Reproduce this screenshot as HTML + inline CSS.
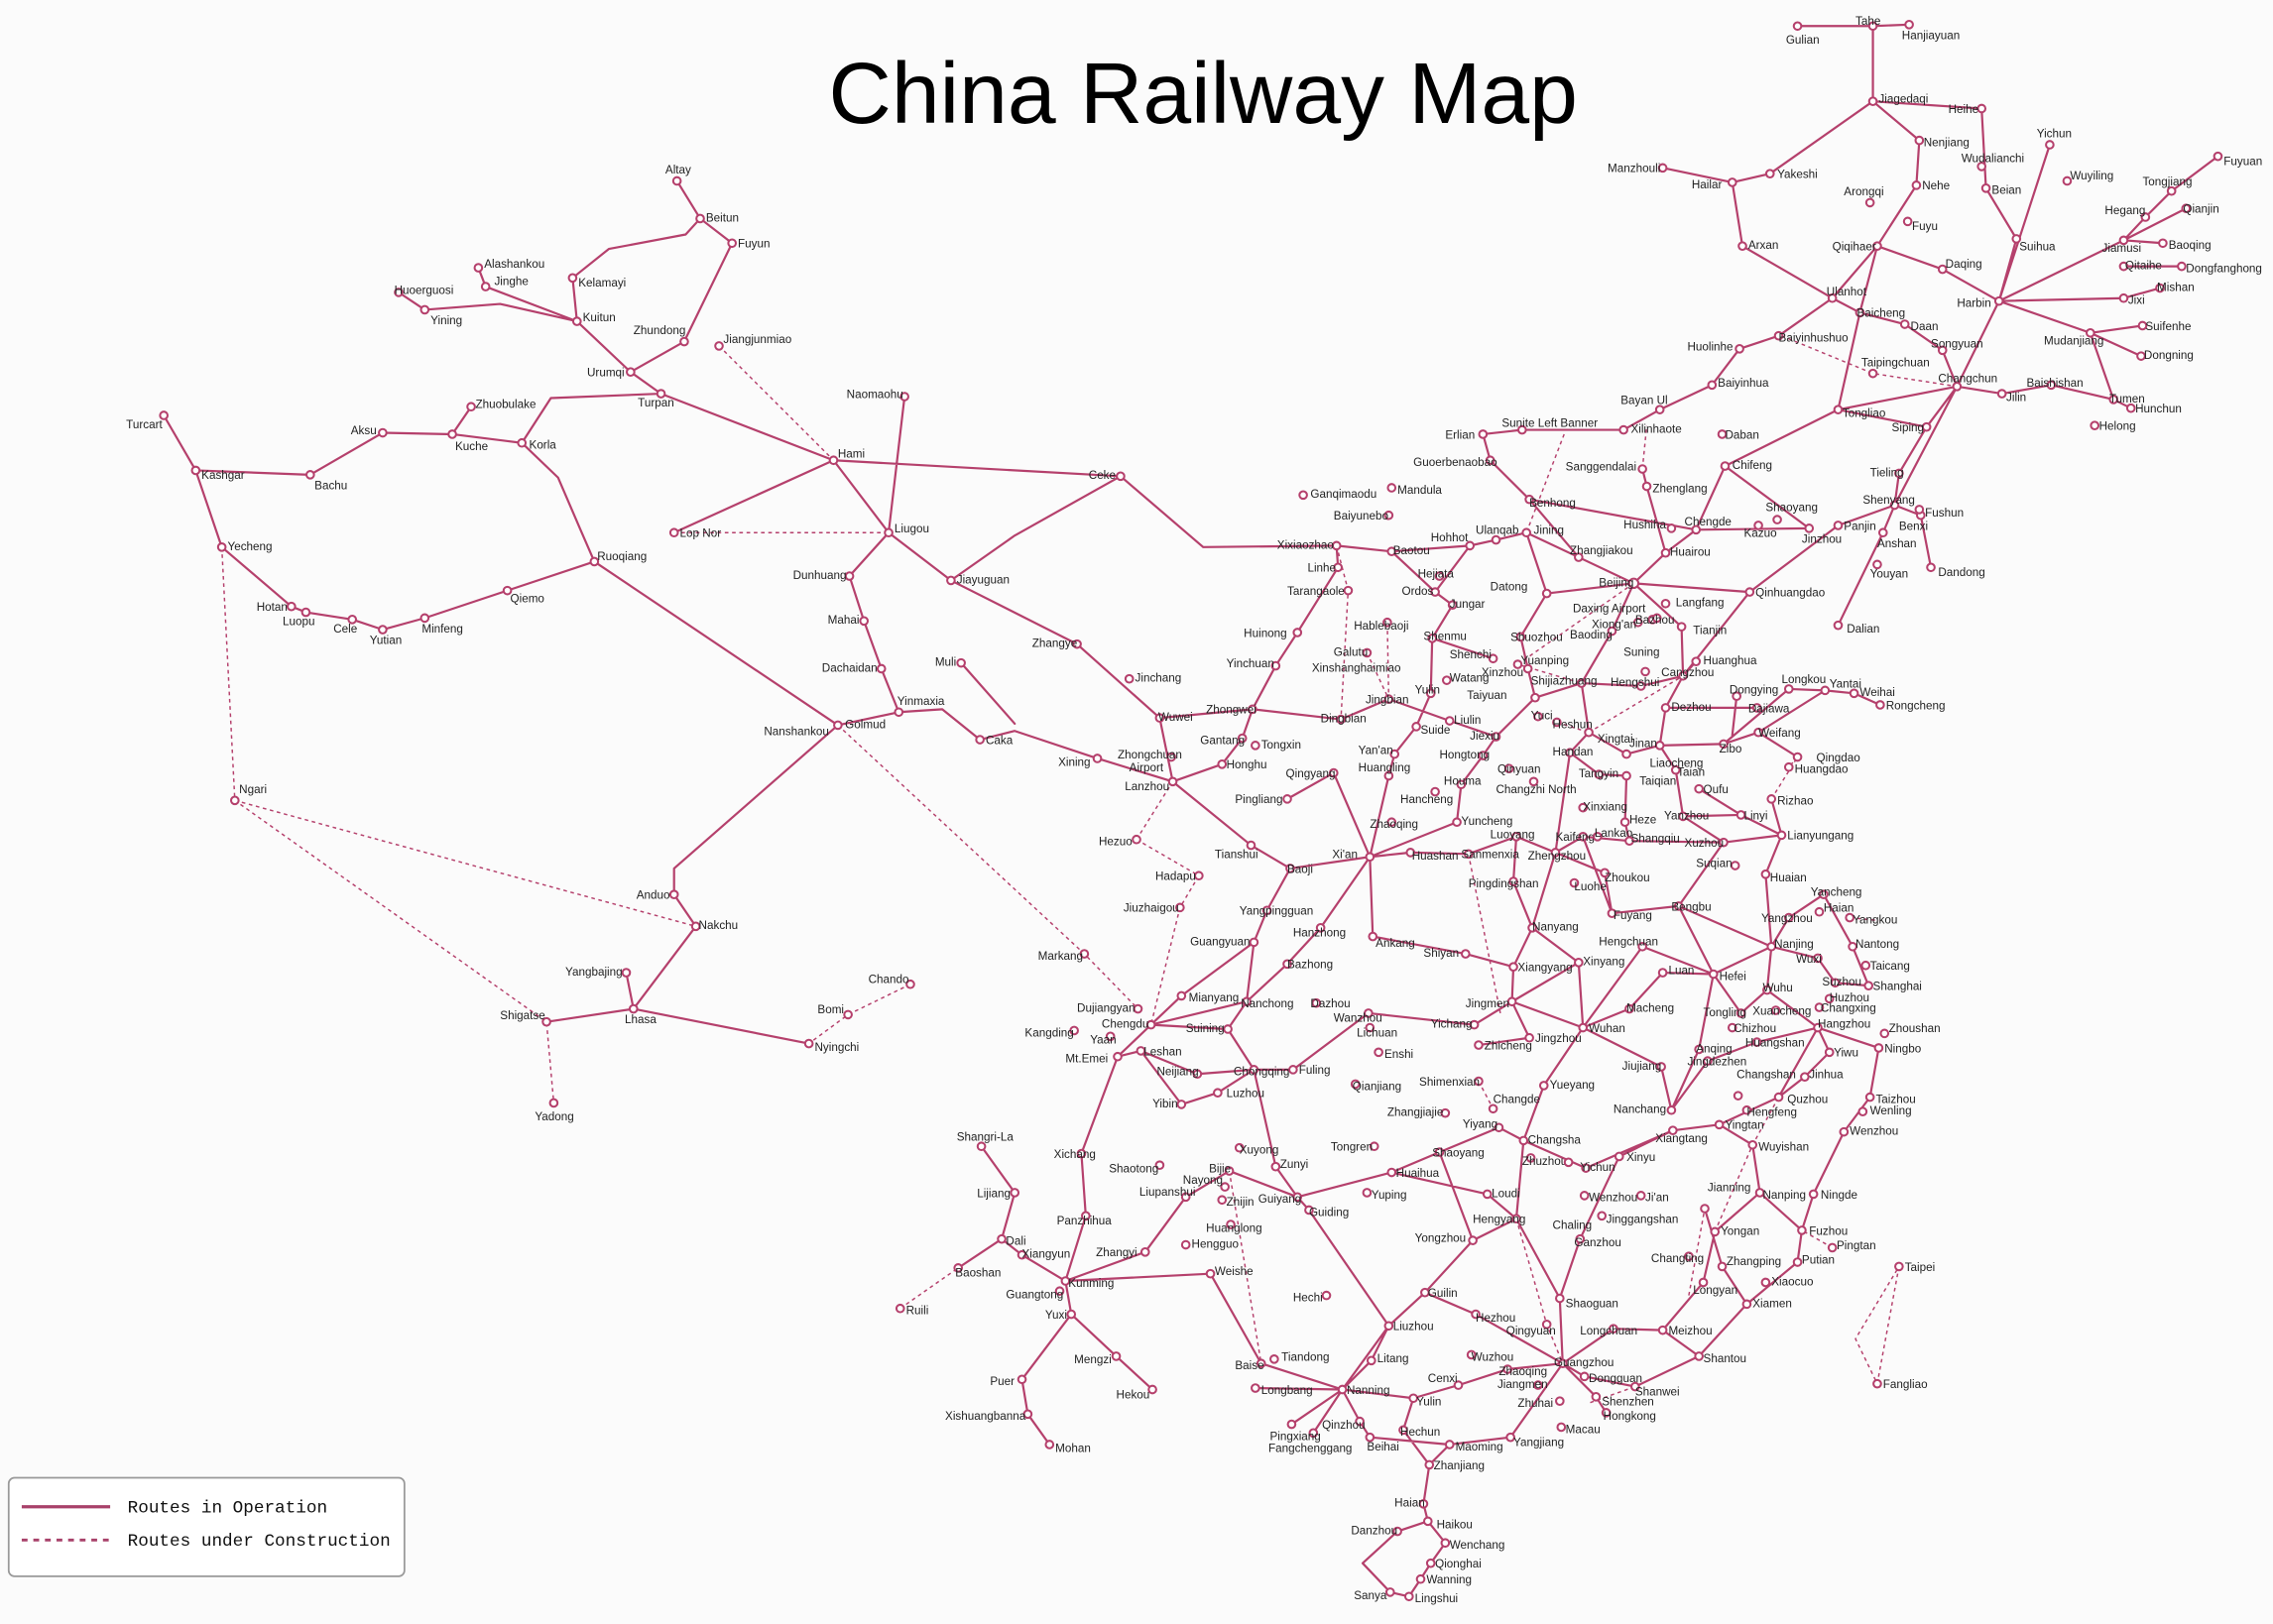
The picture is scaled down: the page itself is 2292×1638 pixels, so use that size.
<!DOCTYPE html>
<html><head><meta charset="utf-8">
<style>
html,body{margin:0;padding:0;background:#fbfbfb;}
svg{display:block;}
.s{fill:none;stroke:#b5406c;stroke-width:1.5;stroke-linejoin:round;stroke-linecap:round}
.d{fill:none;stroke:#b5406c;stroke-width:1;stroke-dasharray:2.5 2.5}
.n circle{fill:#fff;stroke:#b5406c;stroke-width:1.4}
.n text{font-family:"Liberation Sans",sans-serif;font-size:8px;fill:#222}
</style></head>
<body>
<svg width="2292" height="1638" viewBox="0 0 1568 1122" preserveAspectRatio="none" xmlns="http://www.w3.org/2000/svg">
<rect width="1568" height="1122" fill="#fbfbfb"/>
<text x="830" y="85" text-anchor="middle" font-family="Liberation Sans, sans-serif" font-size="60" fill="#000">China Railway Map</text>

<path class="s" d="
M467,125L483,151L505,168L472,236L435,257L456,272L575,318L613,368L656,401L743,445L800,496L809,540
M483,151L473,162L420,172L395,192L398,222L435,257
M330,185L335,198L398,222
M275,202L293,214L345,210L398,222
M456,272L380,275L360,306L312,300L264,299L214,328L135,325L153,378L201,419L211,423L243,428L264,435L293,427L350,408L410,388L578,501
M360,306L385,330L400,365L410,388
M325,281L312,300
M135,325L113,287
M575,318L773,329L830,378L922,377L960,381L1014,377L1032,373L1053,368L1089,385L1127,403
M624,274L613,368
M465,368L575,318
M613,368L586,398L596,429L608,462L620,492L578,501
M773,329L700,370L656,401
M578,501L465,600L465,618L480,640L437,697L377,706
M432,672L437,697L558,721
M620,492L650,490L676,511L700,505L757,524L809,540
M663,458L700,500
M809,540L863,584L890,600L945,592L973,589L1013,590L1046,578L1073,589L1092,578L1124,581L1189,582L1229,577
M800,496L864,490L880,460L895,437L923,392L922,377
M864,490L857,510L843,528L809,540
M864,490L925,497L958,483L1000,498L1032,509L1059,482L1054,462L1049,440L1067,410
M960,381L990,409L1002,418L988,441L987,479L977,502L962,521L958,536L945,592
M1067,410L1053,368M1067,410L1127,403
M1059,482L1091,472L1132,474L1161,467L1207,409L1268,363L1307,349L1350,267L1379,208L1442,230L1478,225
M1127,403L1112,436L1091,472L1096,506L1083,520L1073,589L1057,641L1089,665L1092,710L1065,750L1051,788L1046,842L1076,897L1078,942L1101,965L1108,976
M1127,403L1160,433L1161,467L1149,489L1145,515L1156,532L1161,564L1189,582L1158,626L1222,654L1254,662L1266,679L1289,681
M1127,403L1149,382L1170,366L1190,322L1268,283L1350,267
M1127,403L1207,409
M1145,515L1189,514L1213,506L1240,523
M1189,514L1234,476L1259,477L1279,479L1297,487
M1213,506L1259,477
M1161,467L1170,457
M1149,489L1212,489M1198,481L1195,508
M945,592L1005,568L1008,542L1023,522L1032,509
M945,592L911,641L888,666L860,692L847,711L865,739L892,739L944,700L1017,708L1043,692L1092,710
M945,592L947,647L1011,659L1044,668L1057,641
M890,600L874,629L865,651L860,692L794,708L771,730L787,726L826,742L865,739L880,806L895,827L960,810L1026,825L1046,842
M794,708L815,688L865,651
M794,708L847,711
M865,739L840,755L815,763L787,726
M895,827L903,836L958,916L926,960L870,942
M895,827L848,809L818,827L790,865L735,885L739,908L770,937L795,960
M735,885L705,867L691,856L700,824L677,792
M691,856L661,876
M739,908L705,953L709,977L724,998
M735,885L835,880L870,942
M749,840L746,797L771,730
M749,840L735,885
M960,810L993,796L1034,779L1051,788L1094,807L1154,781L1186,777L1227,758L1254,710L1296,724
M958,916L983,893L1016,857L1046,842
M958,916L946,940L926,960L938,982L945,993L1000,998L1042,993L1078,942
M926,960L891,984M926,960L906,990M926,960L866,959
M1006,957L1040,946L1078,942L1093,951L1128,958L1172,937L1205,901L1240,872L1243,850L1251,825L1272,782L1290,758L1296,724
M1078,942L1113,918L1147,919L1172,937
M1090,856L1076,897M1090,856L1117,799L1154,781
M1147,919L1175,886L1183,851L1214,824L1209,791L1186,777
M1243,850L1214,824
M1176,835L1188,875L1205,901
M1153,767L1146,737L1092,710
M1153,767L1178,733L1212,720L1254,710
M1182,673L1222,654M1182,673L1147,672L1124,697L1092,710
M1182,673L1172,725L1153,767
M1182,673L1201,700L1219,684L1222,654
M1158,626L1182,673
M1222,654L1234,634L1258,618L1278,654L1289,681
M1229,577L1218,604L1222,654
M1201,563L1229,577L1222,552
M1161,564L1201,563
M1092,578L1112,631L1158,626
M1043,692L1055,717L1020,722
M986,1012L1000,998M986,1012L982,1039L985,1051L997,1066L987,1080L980,1091L972,1103L959,1100L940,1080L964,1058L985,1051
M1023,300L1050,297L1120,297L1145,283L1181,266L1200,241L1227,232L1264,206L1295,170L1322,128L1324,97L1292,70L1292,18L1240,18
M1292,18L1317,17
M1292,70L1367,75
M1147,116L1195,126L1221,120L1292,70
M1195,126L1202,170L1264,206
M1264,206L1283,216L1314,224L1340,242L1350,267L1381,272L1415,266L1458,276L1470,282
M1295,170L1340,186L1379,208L1391,165L1370,130L1367,75
M1379,208L1465,166L1480,150L1498,132L1530,108
M1465,166L1508,144M1465,166L1492,168
M1379,208L1465,206L1490,199M1465,184L1505,184
M1442,230L1477,246M1442,230L1458,276
M1379,208L1414,100
M1295,170L1283,216L1268,283L1329,295L1350,267
M1307,349L1299,368L1268,432M1307,349L1325,356L1332,392
M1307,349L1310,327L1329,295
M1248,365L1190,322
M1028,318L1023,300M1028,318L1055,345L1089,385
M1136,336L1133,324M1136,336L1149,382
M1055,345L1170,366L1248,365
M1014,377L990,409
M988,441L1030,455
M945,592L920,534L888,552
M1073,589L1107,603L1112,631
M1043,692L1089,665
M1222,654L1219,684L1254,710
M1254,710L1262,727L1245,744L1227,758
M1092,710L1133,654L1182,673
M993,796L1016,857
M983,893L1018,908L1078,942
M926,960L975,966L1006,957
M975,966L968,988L986,1012
M1044,668L1043,692
M1057,641L1044,609L1046,578
M1124,581L1121,568L1122,536L1103,535L1083,520
M1145,515L1122,521L1096,506
M1172,545L1201,563
"/>
<path class="d" d="
M496,239L575,318
M465,368L613,368
M153,378L162,553L377,706L382,762
M162,553L480,640
M578,501L748,659L785,697
M628,680L585,701L558,721
M784,580L809,540M784,580L827,605L814,627L794,708
M1127,403L1047,459L1091,472
M1074,499L1096,506
M1096,506L1161,467
M1079,300L1053,368
M1133,324L1136,294
M1229,232L1292,258L1350,267
M943,451L958,483L957,430
M922,377L930,408L925,497
M1013,590L1035,700
M1020,747L1030,766
M848,809L870,942
M1046,842L1067,915L1078,942
M1183,851L1209,791L1227,758
M1310,875L1295,956L1280,925L1310,875
M1165,895L1176,835
M1240,523L1234,530
M1276,634L1296,636
M621,904L661,876
M1264,862L1243,850
M1222,552L1240,523
M1097,969L1128,958
"/>

<g class="n">
<circle cx="467" cy="125" r="2.6"/><text x="459" y="120">Altay</text>
<circle cx="483" cy="151" r="2.6"/><text x="487" y="153">Beitun</text>
<circle cx="505" cy="168" r="2.6"/><text x="509" y="171">Fuyun</text>
<circle cx="330" cy="185" r="2.6"/><text x="334" y="185">Alashankou</text>
<circle cx="335" cy="198" r="2.6"/><text x="341" y="197">Jinghe</text>
<circle cx="395" cy="192" r="2.6"/><text x="399" y="198">Kelamayi</text>
<circle cx="275" cy="202" r="2.6"/><text x="272" y="203">Huoerguosi</text>
<circle cx="293" cy="214" r="2.6"/><text x="297" y="224">Yining</text>
<circle cx="398" cy="222" r="2.6"/><text x="402" y="222">Kuitun</text>
<circle cx="472" cy="236" r="2.6"/><text x="437" y="231">Zhundong</text>
<circle cx="496" cy="239" r="2.6"/><text x="499" y="237">Jiangjunmiao</text>
<circle cx="435" cy="257" r="2.6"/><text x="405" y="260">Urumqi</text>
<circle cx="456" cy="272" r="2.6"/><text x="440" y="281">Turpan</text>
<circle cx="325" cy="281" r="2.6"/><text x="328" y="282">Zhuobulake</text>
<circle cx="264" cy="299" r="2.6"/><text x="242" y="300">Aksu</text>
<circle cx="312" cy="300" r="2.6"/><text x="314" y="311">Kuche</text>
<circle cx="360" cy="306" r="2.6"/><text x="365" y="310">Korla</text>
<circle cx="113" cy="287" r="2.6"/><text x="87" y="296">Turcart</text>
<circle cx="135" cy="325" r="2.6"/><text x="139" y="331">Kashgar</text>
<circle cx="214" cy="328" r="2.6"/><text x="217" y="338">Bachu</text>
<circle cx="153" cy="378" r="2.6"/><text x="157" y="380">Yecheng</text>
<circle cx="201" cy="419" r="2.6"/><text x="177" y="422">Hotan</text>
<circle cx="211" cy="423" r="2.6"/><text x="195" y="432">Luopu</text>
<circle cx="243" cy="428" r="2.6"/><text x="230" y="437">Cele</text>
<circle cx="264" cy="435" r="2.6"/><text x="255" y="445">Yutian</text>
<circle cx="293" cy="427" r="2.6"/><text x="291" y="437">Minfeng</text>
<circle cx="350" cy="408" r="2.6"/><text x="352" y="416">Qiemo</text>
<circle cx="410" cy="388" r="2.6"/><text x="412" y="387">Ruoqiang</text>
<circle cx="575" cy="318" r="2.6"/><text x="578" y="316">Hami</text>
<circle cx="624" cy="274" r="2.6"/><text x="584" y="275">Naomaohu</text>
<circle cx="465" cy="368" r="2.6"/><text x="469" y="371">Lop Nor</text>
<circle cx="613" cy="368" r="2.6"/><text x="617" y="368">Liugou</text>
<circle cx="773" cy="329" r="2.6"/><text x="751" y="331">Ceke</text>
<circle cx="656" cy="401" r="2.6"/><text x="660" y="403">Jiayuguan</text>
<circle cx="586" cy="398" r="2.6"/><text x="547" y="400">Dunhuang</text>
<circle cx="596" cy="429" r="2.6"/><text x="571" y="431">Mahai</text>
<circle cx="608" cy="462" r="2.6"/><text x="567" y="464">Dachaidan</text>
<circle cx="620" cy="492" r="2.6"/><text x="619" y="487">Yinmaxia</text>
<circle cx="578" cy="501" r="2.6"/><text x="583" y="503">Golmud</text>
<text x="527" y="508">Nanshankou</text>
<circle cx="663" cy="458" r="2.6"/><text x="645" y="460">Muli</text>
<circle cx="676" cy="511" r="2.6"/><text x="680" y="514">Caka</text>
<circle cx="757" cy="524" r="2.6"/><text x="730" y="529">Xining</text>
<circle cx="162" cy="553" r="2.6"/><text x="165" y="548">Ngari</text>
<circle cx="465" cy="618" r="2.6"/><text x="439" y="621">Anduo</text>
<circle cx="480" cy="640" r="2.6"/><text x="482" y="642">Nakchu</text>
<circle cx="432" cy="672" r="2.6"/><text x="390" y="674">Yangbajing</text>
<circle cx="437" cy="697" r="2.6"/><text x="431" y="707">Lhasa</text>
<circle cx="377" cy="706" r="2.6"/><text x="345" y="704">Shigatse</text>
<circle cx="382" cy="762" r="2.6"/><text x="369" y="774">Yadong</text>
<circle cx="558" cy="721" r="2.6"/><text x="562" y="726">Nyingchi</text>
<circle cx="585" cy="701" r="2.6"/><text x="564" y="700">Bomi</text>
<circle cx="628" cy="680" r="2.6"/><text x="599" y="679">Chando</text>
<circle cx="748" cy="659" r="2.6"/><text x="716" y="663">Markang</text>
<circle cx="741" cy="712" r="2.6"/><text x="707" y="716">Kangding</text>
<circle cx="785" cy="697" r="2.6"/><text x="743" y="699">Dujiangyan</text>
<circle cx="794" cy="708" r="2.6"/><text x="760" y="710">Chengdu</text>
<circle cx="766" cy="716" r="2.6"/><text x="752" y="721">Yaan</text>
<circle cx="771" cy="730" r="2.6"/><text x="735" y="734">Mt.Emei</text>
<circle cx="743" cy="445" r="2.6"/><text x="712" y="447">Zhangye</text>
<circle cx="779" cy="469" r="2.6"/><text x="783" y="471">Jinchang</text>
<circle cx="800" cy="496" r="2.6"/><text x="799" y="498">Wuwei</text>
<circle cx="808" cy="523" r="2.6"/><text x="771" y="524">Zhongchuan</text><text x="779" y="533">Airport</text>
<circle cx="809" cy="540" r="2.6"/><text x="776" y="546">Lanzhou</text>
<circle cx="864" cy="490" r="2.6"/><text x="832" y="493">Zhongwei</text>
<circle cx="857" cy="510" r="2.6"/><text x="828" y="514">Gantang</text>
<circle cx="866" cy="515" r="2.6"/><text x="870" y="517">Tongxin</text>
<circle cx="843" cy="528" r="2.6"/><text x="846" y="531">Honghu</text>
<circle cx="880" cy="460" r="2.6"/><text x="846" y="461">Yinchuan</text>
<circle cx="895" cy="437" r="2.6"/><text x="858" y="440">Huinong</text>
<circle cx="923" cy="392" r="2.6"/><text x="902" y="395">Linhe</text>
<circle cx="922" cy="377" r="2.6"/><text x="881" y="379">Xixiaozhao</text>
<circle cx="899" cy="342" r="2.6"/><text x="904" y="344">Ganqimaodu</text>
<circle cx="958" cy="356" r="2.6"/><text x="920" y="359">Baiyunebo</text>
<circle cx="960" cy="337" r="2.6"/><text x="964" y="341">Mandula</text>
<circle cx="960" cy="381" r="2.6"/><text x="961" y="383">Baotou</text>
<circle cx="1014" cy="377" r="2.6"/><text x="987" y="374">Hohhot</text>
<circle cx="1032" cy="373" r="2.6"/><text x="1018" y="369">Ulanqab</text>
<circle cx="1053" cy="368" r="2.6"/><text x="1058" y="369">Jining</text>
<circle cx="993" cy="398" r="2.6"/><text x="978" y="399">Hejiata</text>
<circle cx="990" cy="409" r="2.6"/><text x="967" y="411">Ordos</text>
<circle cx="930" cy="408" r="2.6"/><text x="888" y="411">Tarangaole</text>
<circle cx="1002" cy="418" r="2.6"/><text x="1000" y="420">Jungar</text>
<circle cx="1067" cy="410" r="2.6"/><text x="1028" y="408">Datong</text>
<circle cx="957" cy="430" r="2.6"/><text x="934" y="435">Hablebaoji</text>
<circle cx="988" cy="441" r="2.6"/><text x="982" y="442">Shenmu</text>
<circle cx="943" cy="451" r="2.6"/><text x="920" y="453">Galutu</text>
<text x="905" y="464">Xinshanghaimiao</text>
<circle cx="958" cy="483" r="2.6"/><text x="942" y="486">Jingbian</text>
<circle cx="987" cy="479" r="2.6"/><text x="976" y="479">Yulin</text>
<circle cx="1049" cy="440" r="2.6"/><text x="1042" y="443">Shuozhou</text>
<circle cx="1030" cy="455" r="2.6"/><text x="1000" y="455">Shenchi</text>
<circle cx="1047" cy="459" r="2.6"/><text x="1049" y="459">Yuanping</text>
<circle cx="998" cy="470" r="2.6"/><text x="1000" y="471">Watang</text>
<circle cx="1054" cy="462" r="2.6"/><text x="1022" y="467">Xinzhou</text>
<circle cx="1059" cy="482" r="2.6"/><text x="1012" y="483">Taiyuan</text>
<circle cx="977" cy="502" r="2.6"/><text x="980" y="507">Suide</text>
<circle cx="1000" cy="498" r="2.6"/><text x="1003" y="500">Liulin</text>
<circle cx="925" cy="497" r="2.6"/><text x="911" y="499">Dingbian</text>
<circle cx="1032" cy="509" r="2.6"/><text x="1014" y="511">Jiexiu</text>
<circle cx="1061" cy="495" r="2.6"/><text x="1056" y="497">Yuci</text>
<circle cx="1074" cy="499" r="2.6"/><text x="1071" y="503">Heshun</text>
<circle cx="962" cy="521" r="2.6"/><text x="937" y="521">Yan'an</text>
<circle cx="958" cy="536" r="2.6"/><text x="937" y="533">Huangling</text>
<circle cx="920" cy="534" r="2.6"/><text x="887" y="537">Qingyang</text>
<circle cx="888" cy="552" r="2.6"/><text x="852" y="555">Pingliang</text>
<circle cx="863" cy="584" r="2.6"/><text x="838" y="593">Tianshui</text>
<circle cx="890" cy="600" r="2.6"/><text x="888" y="603">Baoji</text>
<circle cx="945" cy="592" r="2.6"/><text x="919" y="593">Xi'an</text>
<circle cx="990" cy="547" r="2.6"/><text x="966" y="555">Hancheng</text>
<circle cx="1008" cy="542" r="2.6"/><text x="996" y="542">Houma</text>
<circle cx="1023" cy="522" r="2.6"/><text x="993" y="524">Hongtong</text>
<circle cx="1041" cy="531" r="2.6"/><text x="1033" y="534">Qinyuan</text>
<circle cx="960" cy="568" r="2.6"/><text x="945" y="572">Zhaoqing</text>
<circle cx="1005" cy="568" r="2.6"/><text x="1008" y="570">Yuncheng</text>
<circle cx="973" cy="589" r="2.6"/><text x="974" y="594">Huashan</text>
<circle cx="1013" cy="590" r="2.6"/><text x="1008" y="593">Sanmenxia</text>
<circle cx="1046" cy="578" r="2.6"/><text x="1028" y="579">Luoyang</text>
<circle cx="1073" cy="589" r="2.6"/><text x="1054" y="594">Zhengzhou</text>
<circle cx="1092" cy="578" r="2.6"/><text x="1073" y="581">Kaifeng</text>
<circle cx="1058" cy="540" r="2.6"/><text x="1032" y="548">Changzhi North</text>
<circle cx="1083" cy="520" r="2.6"/><text x="1071" y="522">Handan</text>
<circle cx="1096" cy="506" r="2.6"/><text x="1102" y="513">Xingtai</text>
<circle cx="1091" cy="472" r="2.6"/><text x="1056" y="473">Shijiazhuang</text>
<circle cx="1132" cy="474" r="2.6"/><text x="1111" y="474">Hengshui</text>
<circle cx="1112" cy="436" r="2.6"/><text x="1083" y="441">Baoding</text>
<circle cx="1127" cy="403" r="3.2"/><text x="1103" y="405">Beijing</text>
<circle cx="1130" cy="430" r="2.6"/><text x="1085" y="423">Daxing Airport</text>
<circle cx="1140" cy="428" r="2.6"/><text x="1098" y="434">Xiong'an</text>
<circle cx="1143" cy="427" r="2.6"/><text x="1128" y="431">Bazhou</text>
<circle cx="1160" cy="433" r="2.6"/><text x="1168" y="438">Tianjin</text>
<circle cx="1149" cy="417" r="2.6"/><text x="1156" y="419">Langfang</text>
<circle cx="1161" cy="467" r="2.6"/><text x="1146" y="467">Cangzhou</text>
<circle cx="1135" cy="464" r="2.6"/><text x="1120" y="453">Suning</text>
<circle cx="1170" cy="457" r="2.6"/><text x="1175" y="459">Huanghua</text>
<circle cx="1149" cy="489" r="2.6"/><text x="1153" y="491">Dezhou</text>
<circle cx="1145" cy="515" r="2.6"/><text x="1124" y="516">Jinan</text>
<circle cx="1156" cy="532" r="2.6"/><text x="1157" y="536">Taian</text>
<circle cx="1122" cy="521" r="2.6"/><text x="1138" y="530">Liaocheng</text>
<circle cx="1103" cy="535" r="2.6"/><text x="1089" y="537">Tangyin</text>
<circle cx="1122" cy="536" r="2.6"/><text x="1131" y="542">Taiqian</text>
<circle cx="1092" cy="558" r="2.6"/><text x="1092" y="560">Xinxiang</text>
<circle cx="1121" cy="568" r="2.6"/><text x="1124" y="569">Heze</text>
<circle cx="1102" cy="578" r="2.6"/><text x="1100" y="578">Lankao</text>
<circle cx="1124" cy="581" r="2.6"/><text x="1125" y="582">Shangqiu</text>
<circle cx="1172" cy="545" r="2.6"/><text x="1175" y="548">Qufu</text>
<circle cx="1161" cy="564" r="2.6"/><text x="1148" y="566">Yanzhou</text>
<circle cx="1201" cy="563" r="2.6"/><text x="1203" y="566">Linyi</text>
<circle cx="1222" cy="552" r="2.6"/><text x="1226" y="556">Rizhao</text>
<circle cx="1189" cy="514" r="2.6"/><text x="1186" y="520">Zibo</text>
<circle cx="1213" cy="506" r="2.6"/><text x="1213" y="509">Weifang</text>
<circle cx="1240" cy="523" r="2.6"/><text x="1253" y="526">Qingdao</text>
<circle cx="1234" cy="530" r="2.6"/><text x="1238" y="534">Huangdao</text>
<circle cx="1259" cy="477" r="2.6"/><text x="1262" y="475">Yantai</text>
<circle cx="1279" cy="479" r="2.6"/><text x="1283" y="481">Weihai</text>
<circle cx="1234" cy="476" r="2.6"/><text x="1229" y="472">Longkou</text>
<circle cx="1297" cy="487" r="2.6"/><text x="1301" y="490">Rongcheng</text>
<circle cx="1198" cy="481" r="2.6"/><text x="1193" y="479">Dongying</text>
<circle cx="1212" cy="489" r="2.6"/><text x="1206" y="492">Dajiawa</text>
<circle cx="1170" cy="366" r="2.6"/><text x="1162" y="363">Chengde</text>
<circle cx="1153" cy="365" r="2.6"/><text x="1120" y="365">Hushiha</text>
<circle cx="1089" cy="385" r="2.6"/><text x="1083" y="383">Zhangjiakou</text>
<circle cx="1149" cy="382" r="2.6"/><text x="1152" y="384">Huairou</text>
<circle cx="1207" cy="409" r="2.6"/><text x="1211" y="412">Qinhuangdao</text>
<circle cx="1213" cy="363" r="2.6"/><text x="1203" y="371">Kazuo</text>
<circle cx="1226" cy="359" r="2.6"/><text x="1218" y="353">Shaoyang</text>
<circle cx="1248" cy="365" r="2.6"/><text x="1243" y="375">Jinzhou</text>
<circle cx="1268" cy="363" r="2.6"/><text x="1272" y="366">Panjin</text>
<circle cx="1307" cy="349" r="2.6"/><text x="1285" y="348">Shenyang</text>
<circle cx="1268" cy="432" r="2.6"/><text x="1274" y="437">Dalian</text>
<circle cx="1299" cy="368" r="2.6"/><text x="1295" y="378">Anshan</text>
<circle cx="1325" cy="356" r="2.6"/><text x="1310" y="366">Benxi</text>
<circle cx="1324" cy="352" r="2.6"/><text x="1328" y="357">Fushun</text>
<circle cx="1332" cy="392" r="2.6"/><text x="1337" y="398">Dandong</text>
<circle cx="1295" cy="390" r="2.6"/><text x="1290" y="399">Youyan</text>
<circle cx="1310" cy="327" r="2.6"/><text x="1290" y="329">Tieling</text>
<circle cx="1350" cy="267" r="2.6"/><text x="1337" y="264">Changchun</text>
<circle cx="1381" cy="272" r="2.6"/><text x="1384" y="277">Jilin</text>
<circle cx="1329" cy="295" r="2.6"/><text x="1305" y="298">Siping</text>
<circle cx="1379" cy="208" r="2.6"/><text x="1350" y="212">Harbin</text>
<circle cx="1295" cy="170" r="2.6"/><text x="1264" y="173">Qiqihaer</text>
<circle cx="1340" cy="186" r="2.6"/><text x="1342" y="185">Daqing</text>
<circle cx="1314" cy="224" r="2.6"/><text x="1318" y="228">Daan</text>
<circle cx="1283" cy="216" r="2.6"/><text x="1281" y="219">Baicheng</text>
<circle cx="1264" cy="206" r="2.6"/><text x="1260" y="204">Ulanhot</text>
<circle cx="1268" cy="283" r="2.6"/><text x="1271" y="288">Tongliao</text>
<circle cx="1190" cy="322" r="2.6"/><text x="1195" y="324">Chifeng</text>
<circle cx="1136" cy="336" r="2.6"/><text x="1140" y="340">Zhenglang</text>
<circle cx="1120" cy="297" r="2.6"/><text x="1125" y="299">Xilinhaote</text>
<circle cx="1145" cy="283" r="2.6"/><text x="1118" y="279">Bayan Ul</text>
<circle cx="1023" cy="300" r="2.6"/><text x="997" y="303">Erlian</text>
<circle cx="1050" cy="297" r="2.6"/><text x="1036" y="295">Sunite Left Banner</text>
<circle cx="1028" cy="318" r="2.6"/><text x="975" y="322">Guoerbenaobao</text>
<circle cx="1055" cy="345" r="2.6"/><text x="1055" y="350">Benhong</text>
<circle cx="1133" cy="324" r="2.6"/><text x="1080" y="325">Sanggendalai</text>
<circle cx="1200" cy="241" r="2.6"/><text x="1164" y="242">Huolinhe</text>
<circle cx="1181" cy="266" r="2.6"/><text x="1185" y="267">Baiyinhua</text>
<circle cx="1188" cy="300" r="2.6"/><text x="1190" y="303">Daban</text>
<circle cx="1227" cy="232" r="2.6"/><text x="1227" y="236">Baiyinhushuo</text>
<circle cx="1195" cy="126" r="2.6"/><text x="1167" y="130">Hailar</text>
<circle cx="1147" cy="116" r="2.6"/><text x="1109" y="119">Manzhouli</text>
<circle cx="1221" cy="120" r="2.6"/><text x="1226" y="123">Yakeshi</text>
<circle cx="1202" cy="170" r="2.6"/><text x="1206" y="172">Arxan</text>
<circle cx="1292" cy="70" r="2.6"/><text x="1296" y="71">Jiagedaqi</text>
<circle cx="1240" cy="18" r="2.6"/><text x="1232" y="30">Gulian</text>
<circle cx="1292" cy="18" r="2.6"/><text x="1280" y="17">Tahe</text>
<circle cx="1317" cy="17" r="2.6"/><text x="1312" y="27">Hanjiayuan</text>
<circle cx="1367" cy="75" r="2.6"/><text x="1344" y="78">Heihe</text>
<circle cx="1324" cy="97" r="2.6"/><text x="1327" y="101">Nenjiang</text>
<circle cx="1322" cy="128" r="2.6"/><text x="1326" y="131">Nehe</text>
<circle cx="1290" cy="140" r="2.6"/><text x="1272" y="135">Arongqi</text>
<circle cx="1316" cy="153" r="2.6"/><text x="1319" y="159">Fuyu</text>
<circle cx="1370" cy="130" r="2.6"/><text x="1374" y="134">Beian</text>
<circle cx="1367" cy="115" r="2.6"/><text x="1353" y="112">Wudalianchi</text>
<circle cx="1391" cy="165" r="2.6"/><text x="1393" y="173">Suihua</text>
<circle cx="1414" cy="100" r="2.6"/><text x="1405" y="95">Yichun</text>
<circle cx="1426" cy="125" r="2.6"/><text x="1428" y="124">Wuyiling</text>
<circle cx="1465" cy="166" r="2.6"/><text x="1450" y="174">Jiamusi</text>
<circle cx="1480" cy="150" r="2.6"/><text x="1452" y="148">Hegang</text>
<circle cx="1498" cy="132" r="2.6"/><text x="1478" y="128">Tongjiang</text>
<circle cx="1530" cy="108" r="2.6"/><text x="1534" y="114">Fuyuan</text>
<circle cx="1508" cy="144" r="2.6"/><text x="1506" y="147">Qianjin</text>
<circle cx="1492" cy="168" r="2.6"/><text x="1496" y="172">Baoqing</text>
<circle cx="1465" cy="184" r="2.6"/><text x="1466" y="186">Qitaihe</text>
<circle cx="1465" cy="206" r="2.6"/><text x="1468" y="210">Jixi</text>
<circle cx="1490" cy="199" r="2.6"/><text x="1488" y="201">Mishan</text>
<circle cx="1505" cy="184" r="2.6"/><text x="1508" y="188">Dongfanghong</text>
<circle cx="1442" cy="230" r="2.6"/><text x="1410" y="238">Mudanjiang</text>
<circle cx="1478" cy="225" r="2.6"/><text x="1480" y="228">Suifenhe</text>
<circle cx="1477" cy="246" r="2.6"/><text x="1479" y="248">Dongning</text>
<circle cx="1458" cy="276" r="2.6"/><text x="1455" y="278">Tumen</text>
<circle cx="1470" cy="282" r="2.6"/><text x="1473" y="285">Hunchun</text>
<circle cx="1415" cy="266" r="2.6"/><text x="1398" y="267">Baishishan</text>
<circle cx="1445" cy="294" r="2.6"/><text x="1448" y="297">Helong</text>
<circle cx="1340" cy="242" r="2.6"/><text x="1332" y="240">Songyuan</text>
<circle cx="1292" cy="258" r="2.6"/><text x="1284" y="253">Taipingchuan</text>
<circle cx="1189" cy="582" r="2.6"/><text x="1162" y="585">Xuzhou</text>
<circle cx="1197" cy="598" r="2.6"/><text x="1170" y="599">Suqian</text>
<circle cx="1218" cy="604" r="2.6"/><text x="1221" y="609">Huaian</text>
<circle cx="1258" cy="618" r="2.6"/><text x="1249" y="619">Yancheng</text>
<circle cx="1229" cy="577" r="2.6"/><text x="1233" y="580">Lianyungang</text>
<circle cx="1158" cy="626" r="2.6"/><text x="1153" y="629">Bengbu</text>
<circle cx="1112" cy="631" r="2.6"/><text x="1113" y="635">Fuyang</text>
<circle cx="1107" cy="603" r="2.6"/><text x="1107" y="609">Zhoukou</text>
<circle cx="1086" cy="610" r="2.6"/><text x="1086" y="615">Luohe</text>
<circle cx="1057" cy="641" r="2.6"/><text x="1057" y="643">Nanyang</text>
<circle cx="1044" cy="609" r="2.6"/><text x="1013" y="613">Pingdingshan</text>
<circle cx="1044" cy="668" r="2.6"/><text x="1047" y="671">Xiangyang</text>
<circle cx="1089" cy="665" r="2.6"/><text x="1092" y="667">Xinyang</text>
<circle cx="1133" cy="654" r="2.6"/><text x="1103" y="653">Hengchuan</text>
<circle cx="1182" cy="673" r="2.6"/><text x="1186" y="677">Hefei</text>
<circle cx="1222" cy="654" r="2.6"/><text x="1224" y="655">Nanjing</text>
<circle cx="1234" cy="634" r="2.6"/><text x="1215" y="637">Yangzhou</text>
<circle cx="1254" cy="662" r="2.6"/><text x="1239" y="665">Wuxi</text>
<circle cx="1266" cy="679" r="2.6"/><text x="1257" y="681">Suzhou</text>
<circle cx="1289" cy="681" r="2.6"/><text x="1292" y="684">Shanghai</text>
<circle cx="1255" cy="630" r="2.6"/><text x="1258" y="630">Haian</text>
<circle cx="1278" cy="654" r="2.6"/><text x="1280" y="655">Nantong</text>
<circle cx="1287" cy="667" r="2.6"/><text x="1290" y="670">Taicang</text>
<circle cx="1276" cy="634" r="2.6"/><text x="1278" y="638">Yangkou</text>
<circle cx="1262" cy="690" r="2.6"/><text x="1262" y="692">Huzhou</text>
<circle cx="1255" cy="696" r="2.6"/><text x="1256" y="699">Changxing</text>
<circle cx="1254" cy="710" r="2.6"/><text x="1254" y="710">Hangzhou</text>
<circle cx="1296" cy="724" r="2.6"/><text x="1300" y="727">Ningbo</text>
<circle cx="1300" cy="714" r="2.6"/><text x="1303" y="713">Zhoushan</text>
<circle cx="1219" cy="684" r="2.6"/><text x="1216" y="685">Wuhu</text>
<circle cx="1201" cy="700" r="2.6"/><text x="1175" y="702">Tongling</text>
<circle cx="1195" cy="710" r="2.6"/><text x="1196" y="713">Chizhou</text>
<circle cx="1225" cy="698" r="2.6"/><text x="1209" y="701">Xuancheng</text>
<circle cx="1212" cy="720" r="2.6"/><text x="1204" y="723">Huangshan</text>
<circle cx="1172" cy="725" r="2.6"/><text x="1170" y="727">Anqing</text>
<circle cx="1178" cy="733" r="2.6"/><text x="1164" y="736">Jingdezhen</text>
<circle cx="1146" cy="737" r="2.6"/><text x="1119" y="739">Jiujiang</text>
<circle cx="1153" cy="767" r="2.6"/><text x="1113" y="769">Nanchang</text>
<circle cx="1092" cy="710" r="2.6"/><text x="1096" y="713">Wuhan</text>
<circle cx="1043" cy="692" r="2.6"/><text x="1011" y="696">Jingmen</text>
<circle cx="1124" cy="697" r="2.6"/><text x="1122" y="699">Macheng</text>
<circle cx="1147" cy="672" r="2.6"/><text x="1151" y="673">Luan</text>
<circle cx="1055" cy="717" r="2.6"/><text x="1059" y="720">Jingzhou</text>
<circle cx="1020" cy="722" r="2.6"/><text x="1024" y="725">Zhicheng</text>
<circle cx="1017" cy="708" r="2.6"/><text x="987" y="710">Yichang</text>
<circle cx="951" cy="727" r="2.6"/><text x="955" y="731">Enshi</text>
<circle cx="945" cy="710" r="2.6"/><text x="936" y="716">Lichuan</text>
<circle cx="944" cy="700" r="2.6"/><text x="920" y="706">Wanzhou</text>
<circle cx="908" cy="693" r="2.6"/><text x="904" y="696">Dazhou</text>
<circle cx="888" cy="666" r="2.6"/><text x="888" y="669">Bazhong</text>
<circle cx="860" cy="692" r="2.6"/><text x="856" y="696">Nanchong</text>
<circle cx="847" cy="711" r="2.6"/><text x="818" y="713">Suining</text>
<circle cx="865" cy="651" r="2.6"/><text x="821" y="653">Guangyuan</text>
<circle cx="911" cy="641" r="2.6"/><text x="892" y="647">Hanzhong</text>
<circle cx="947" cy="647" r="2.6"/><text x="949" y="654">Ankang</text>
<circle cx="1011" cy="659" r="2.6"/><text x="982" y="661">Shiyan</text>
<circle cx="874" cy="629" r="2.6"/><text x="855" y="632">Yangpingguan</text>
<circle cx="827" cy="605" r="2.6"/><text x="797" y="608">Hadapu</text>
<circle cx="814" cy="627" r="2.6"/><text x="775" y="630">Jiuzhaigou</text>
<circle cx="784" cy="580" r="2.6"/><text x="758" y="584">Hezuo</text>
<circle cx="815" cy="688" r="2.6"/><text x="820" y="692">Mianyang</text>
<circle cx="865" cy="739" r="2.6"/><text x="851" y="743">Chongqing</text>
<circle cx="826" cy="742" r="2.6"/><text x="798" y="743">Neijiang</text>
<circle cx="840" cy="755" r="2.6"/><text x="846" y="758">Luzhou</text>
<circle cx="815" cy="763" r="2.6"/><text x="795" y="765">Yibin</text>
<circle cx="787" cy="726" r="2.6"/><text x="789" y="729">Leshan</text>
<circle cx="892" cy="739" r="2.6"/><text x="896" y="742">Fuling</text>
<circle cx="935" cy="749" r="2.6"/><text x="933" y="753">Qianjiang</text>
<circle cx="997" cy="769" r="2.6"/><text x="957" y="771">Zhangjiajie</text>
<circle cx="1030" cy="766" r="2.6"/><text x="1030" y="762">Changde</text>
<circle cx="1065" cy="750" r="2.6"/><text x="1069" y="752">Yueyang</text>
<circle cx="1020" cy="747" r="2.6"/><text x="979" y="750">Shimenxian</text>
<circle cx="1051" cy="788" r="2.6"/><text x="1054" y="790">Changsha</text>
<circle cx="1056" cy="800" r="2.6"/><text x="1050" y="805">Zhuzhou</text>
<circle cx="1034" cy="779" r="2.6"/><text x="1009" y="779">Yiyang</text>
<circle cx="1026" cy="825" r="2.6"/><text x="1029" y="827">Loudi</text>
<circle cx="993" cy="796" r="2.6"/><text x="988" y="799">Shaoyang</text>
<circle cx="960" cy="810" r="2.6"/><text x="963" y="813">Huaihua</text>
<circle cx="948" cy="792" r="2.6"/><text x="918" y="795">Tongren</text>
<circle cx="943" cy="824" r="2.6"/><text x="946" y="828">Yuping</text>
<circle cx="895" cy="827" r="2.6"/><text x="868" y="831">Guiyang</text>
<circle cx="903" cy="836" r="2.6"/><text x="903" y="840">Guiding</text>
<circle cx="880" cy="806" r="2.6"/><text x="883" y="807">Zunyi</text>
<circle cx="855" cy="793" r="2.6"/><text x="855" y="797">Xuyong</text>
<circle cx="848" cy="809" r="2.6"/><text x="834" y="810">Bijie</text>
<circle cx="845" cy="820" r="2.6"/><text x="816" y="818">Nayong</text>
<circle cx="818" cy="827" r="2.6"/><text x="786" y="826">Liupanshui</text>
<circle cx="843" cy="829" r="2.6"/><text x="846" y="833">Zhijin</text>
<circle cx="849" cy="846" r="2.6"/><text x="832" y="851">Huanglong</text>
<circle cx="1046" cy="842" r="2.6"/><text x="1016" y="845">Hengyang</text>
<circle cx="1016" cy="857" r="2.6"/><text x="976" y="858">Yongzhou</text>
<circle cx="983" cy="893" r="2.6"/><text x="985" y="896">Guilin</text>
<circle cx="958" cy="916" r="2.6"/><text x="961" y="919">Liuzhou</text>
<circle cx="926" cy="960" r="2.6"/><text x="929" y="963">Nanning</text>
<circle cx="870" cy="942" r="2.6"/><text x="852" y="946">Baise</text>
<circle cx="915" cy="895" r="2.6"/><text x="892" y="899">Hechi</text>
<circle cx="946" cy="940" r="2.6"/><text x="950" y="941">Litang</text>
<circle cx="1006" cy="957" r="2.6"/><text x="985" y="955">Cenxi</text>
<circle cx="975" cy="966" r="2.6"/><text x="977" y="971">Yulin</text>
<circle cx="1015" cy="936" r="2.6"/><text x="1015" y="940">Wuzhou</text>
<circle cx="1018" cy="908" r="2.6"/><text x="1018" y="913">Hezhou</text>
<circle cx="1040" cy="946" r="2.6"/><text x="1034" y="950">Zhaoqing</text>
<circle cx="1078" cy="942" r="2.6"/><text x="1072" y="944">Guangzhou</text>
<circle cx="1061" cy="957" r="2.6"/><text x="1033" y="959">Jiangmen</text>
<circle cx="1076" cy="968" r="2.6"/><text x="1047" y="972">Zhuhai</text>
<circle cx="1101" cy="965" r="2.6"/><text x="1105" y="971">Shenzhen</text>
<circle cx="1093" cy="951" r="2.6"/><text x="1096" y="955">Dongguan</text>
<circle cx="1108" cy="976" r="2.6"/><text x="1106" y="981">Hongkong</text>
<circle cx="1077" cy="986" r="2.6"/><text x="1080" y="990">Macau</text>
<circle cx="1128" cy="958" r="2.6"/><text x="1128" y="964">Shanwei</text>
<circle cx="1172" cy="937" r="2.6"/><text x="1175" y="941">Shantou</text>
<circle cx="1147" cy="919" r="2.6"/><text x="1151" y="922">Meizhou</text>
<circle cx="1113" cy="918" r="2.6"/><text x="1090" y="922">Longchuan</text>
<circle cx="1076" cy="897" r="2.6"/><text x="1080" y="903">Shaoguan</text>
<circle cx="1067" cy="915" r="2.6"/><text x="1039" y="922">Qingyuan</text>
<circle cx="1090" cy="856" r="2.6"/><text x="1086" y="861">Ganzhou</text>
<circle cx="1105" cy="840" r="2.6"/><text x="1108" y="845">Jinggangshan</text>
<circle cx="1132" cy="826" r="2.6"/><text x="1135" y="830">Ji'an</text>
<circle cx="1117" cy="799" r="2.6"/><text x="1122" y="802">Xinyu</text>
<circle cx="1082" cy="803" r="2.6"/><text x="1071" y="849">Chaling</text>
<circle cx="1094" cy="807" r="2.6"/><text x="1090" y="809">Yichun</text>
<circle cx="1093" cy="826" r="2.6"/><text x="1096" y="830">Wenzhou</text>
<circle cx="1154" cy="781" r="2.6"/><text x="1142" y="789">Xiangtang</text>
<circle cx="1186" cy="777" r="2.6"/><text x="1190" y="780">Yingtan</text>
<circle cx="1199" cy="757" r="2.6"/><text x="1198" y="745">Changshan</text>
<circle cx="1227" cy="758" r="2.6"/><text x="1233" y="762">Quzhou</text>
<circle cx="1245" cy="744" r="2.6"/><text x="1248" y="745">Jinhua</text>
<circle cx="1262" cy="727" r="2.6"/><text x="1265" y="730">Yiwu</text>
<circle cx="1205" cy="767" r="2.6"/><text x="1205" y="771">Hengfeng</text>
<circle cx="1290" cy="758" r="2.6"/><text x="1294" y="762">Taizhou</text>
<circle cx="1272" cy="782" r="2.6"/><text x="1276" y="784">Wenzhou</text>
<circle cx="1285" cy="768" r="2.6"/><text x="1290" y="770">Wenling</text>
<circle cx="1209" cy="791" r="2.6"/><text x="1213" y="795">Wuyishan</text>
<circle cx="1214" cy="824" r="2.6"/><text x="1216" y="828">Nanping</text>
<circle cx="1176" cy="835" r="2.6"/><text x="1178" y="823">Jianning</text>
<circle cx="1243" cy="850" r="2.6"/><text x="1248" y="853">Fuzhou</text>
<circle cx="1240" cy="872" r="2.6"/><text x="1243" y="873">Putian</text>
<circle cx="1205" cy="901" r="2.6"/><text x="1209" y="903">Xiamen</text>
<circle cx="1188" cy="875" r="2.6"/><text x="1191" y="874">Zhangping</text>
<circle cx="1175" cy="886" r="2.6"/><text x="1168" y="894">Longyan</text>
<circle cx="1183" cy="851" r="2.6"/><text x="1187" y="853">Yongan</text>
<circle cx="1165" cy="868" r="2.6"/><text x="1139" y="872">Changting</text>
<circle cx="1251" cy="825" r="2.6"/><text x="1256" y="828">Ningde</text>
<circle cx="1264" cy="862" r="2.6"/><text x="1267" y="863">Pingtan</text>
<circle cx="1218" cy="886" r="2.6"/><text x="1222" y="888">Xiaocuo</text>
<circle cx="1310" cy="875" r="2.6"/><text x="1314" y="878">Taipei</text>
<circle cx="1295" cy="956" r="2.6"/><text x="1299" y="959">Fangliao</text>
<circle cx="938" cy="982" r="2.6"/><text x="912" y="987">Qinzhou</text>
<circle cx="945" cy="993" r="2.6"/><text x="943" y="1002">Beihai</text>
<circle cx="906" cy="990" r="2.6"/><text x="875" y="1003">Fangchenggang</text>
<circle cx="891" cy="984" r="2.6"/><text x="876" y="995">Pingxiang</text>
<circle cx="866" cy="959" r="2.6"/><text x="870" y="963">Longbang</text>
<circle cx="879" cy="939" r="2.6"/><text x="884" y="940">Tiandong</text>
<circle cx="986" cy="1012" r="2.6"/><text x="989" y="1015">Zhanjiang</text>
<circle cx="1000" cy="998" r="2.6"/><text x="1004" y="1002">Maoming</text>
<circle cx="1042" cy="993" r="2.6"/><text x="1044" y="999">Yangjiang</text>
<circle cx="968" cy="988" r="2.6"/><text x="966" y="992">Hechun</text>
<circle cx="982" cy="1039" r="2.6"/><text x="962" y="1041">Haian</text>
<circle cx="985" cy="1051" r="2.6"/><text x="991" y="1056">Haikou</text>
<circle cx="997" cy="1066" r="2.6"/><text x="1000" y="1070">Wenchang</text>
<circle cx="987" cy="1080" r="2.6"/><text x="990" y="1083">Qionghai</text>
<circle cx="980" cy="1091" r="2.6"/><text x="984" y="1094">Wanning</text>
<circle cx="972" cy="1103" r="2.6"/><text x="976" y="1107">Lingshui</text>
<circle cx="959" cy="1100" r="2.6"/><text x="934" y="1105">Sanya</text>
<circle cx="964" cy="1058" r="2.6"/><text x="932" y="1060">Danzhou</text>
<circle cx="735" cy="885" r="2.6"/><text x="737" y="889">Kunming</text>
<circle cx="739" cy="908" r="2.6"/><text x="721" y="911">Yuxi</text>
<circle cx="790" cy="865" r="2.6"/><text x="756" y="868">Zhangyi</text>
<circle cx="818" cy="860" r="2.6"/><text x="822" y="862">Hengguo</text>
<circle cx="835" cy="880" r="2.6"/><text x="838" y="881">Weishe</text>
<circle cx="770" cy="937" r="2.6"/><text x="741" y="942">Mengzi</text>
<circle cx="795" cy="960" r="2.6"/><text x="770" y="966">Hekou</text>
<circle cx="705" cy="953" r="2.6"/><text x="683" y="957">Puer</text>
<circle cx="709" cy="977" r="2.6"/><text x="652" y="981">Xishuangbanna</text>
<circle cx="724" cy="998" r="2.6"/><text x="728" y="1003">Mohan</text>
<circle cx="691" cy="856" r="2.6"/><text x="694" y="860">Dali</text>
<circle cx="700" cy="824" r="2.6"/><text x="674" y="827">Lijiang</text>
<circle cx="677" cy="792" r="2.6"/><text x="660" y="788">Shangri-La</text>
<circle cx="661" cy="876" r="2.6"/><text x="659" y="882">Baoshan</text>
<circle cx="621" cy="904" r="2.6"/><text x="625" y="908">Ruili</text>
<circle cx="705" cy="867" r="2.6"/><text x="705" y="869">Xiangyun</text>
<circle cx="731" cy="892" r="2.6"/><text x="694" y="897">Guangtong</text>
<circle cx="746" cy="797" r="2.6"/><text x="727" y="800">Xichang</text>
<circle cx="749" cy="840" r="2.6"/><text x="729" y="846">Panzhihua</text>
<circle cx="800" cy="805" r="2.6"/><text x="765" y="810">Shaotong</text>
</g>

<g>
<rect x="6" y="1021" width="273" height="68" rx="4" fill="#fff" stroke="#999" stroke-width="1.2"/>
<line x1="15" y1="1041" x2="76" y2="1041" stroke="#a8416a" stroke-width="2.2"/>
<line x1="15" y1="1064" x2="76" y2="1064" stroke="#a8416a" stroke-width="2" stroke-dasharray="4 4"/>
<text x="88" y="1045" font-family="Liberation Mono, monospace" font-size="12.1" fill="#111">Routes in Operation</text>
<text x="88" y="1068" font-family="Liberation Mono, monospace" font-size="12.1" fill="#111">Routes under Construction</text>
</g>
</svg>
</body></html>
